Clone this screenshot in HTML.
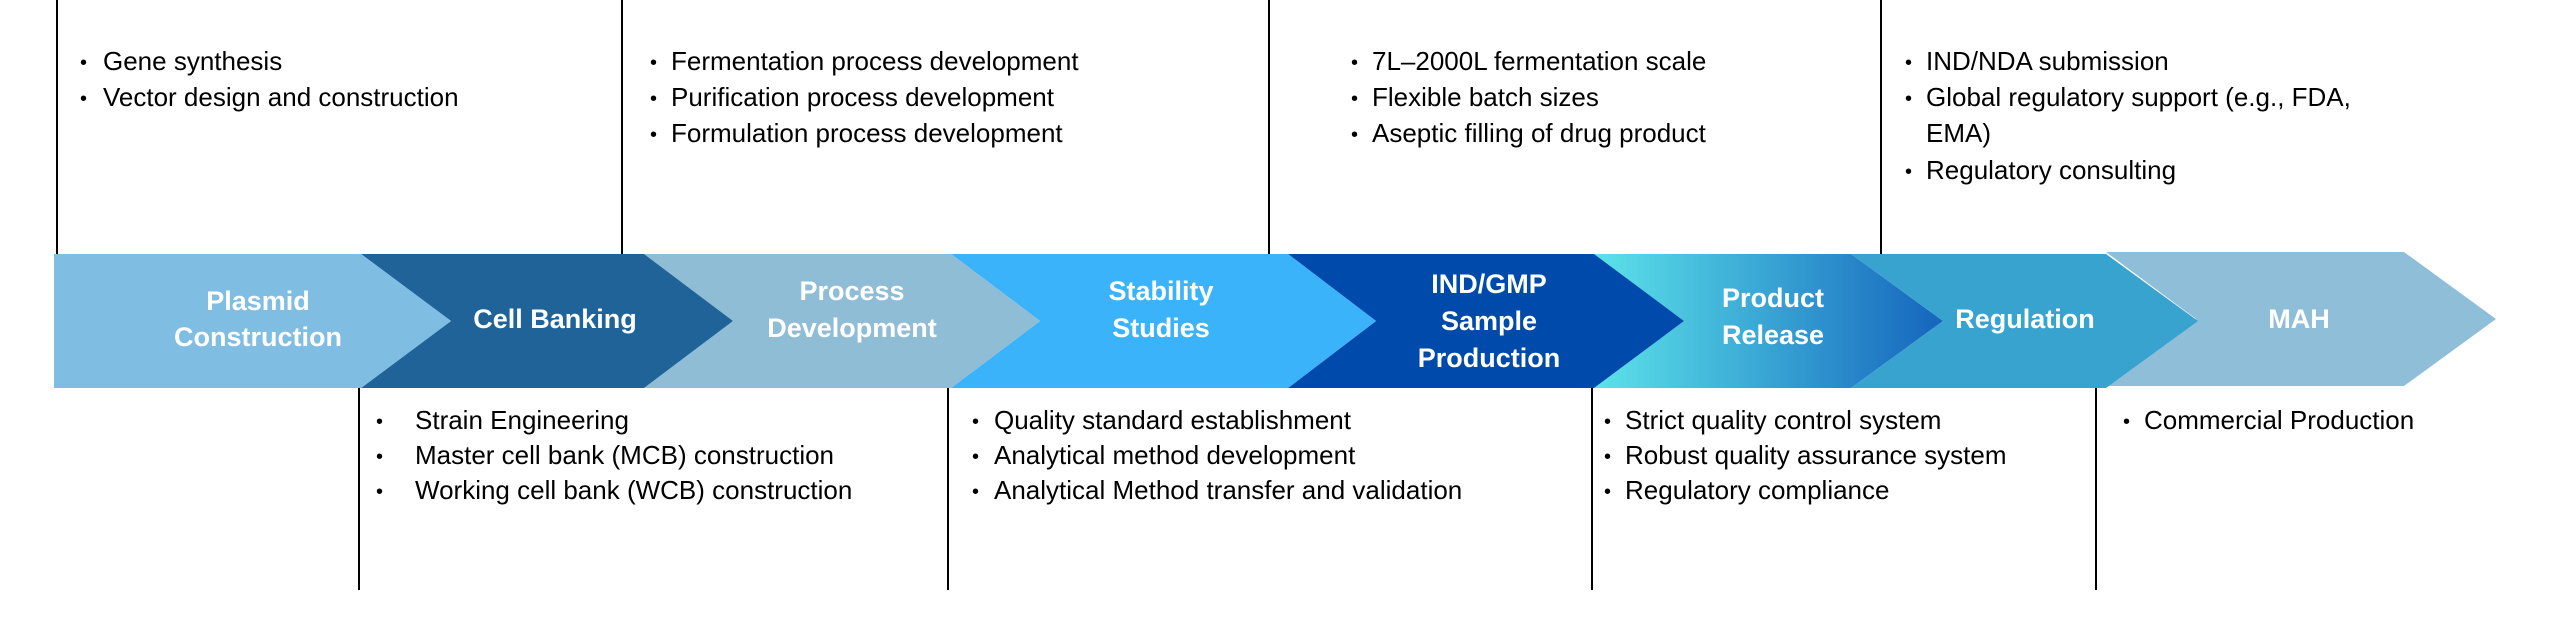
<!DOCTYPE html>
<html><head><meta charset="utf-8"><style>
html,body{margin:0;padding:0;background:#fff;}
svg{display:block;}
.t{font-family:"Liberation Sans",Arial,sans-serif;font-size:26px;fill:#000;}
.b{font-family:"Liberation Sans",Arial,sans-serif;font-size:20px;fill:#000;}
.l{font-family:"Liberation Sans",Arial,sans-serif;font-size:27px;font-weight:bold;fill:#fff;text-anchor:middle;}
</style></head><body>
<svg width="2560" height="640" viewBox="0 0 2560 640" xmlns="http://www.w3.org/2000/svg">
<defs>
<linearGradient id="g1" x1="0" x2="1" y1="0" y2="0">
<stop offset="0" stop-color="#5ce3ea"/><stop offset="1" stop-color="#1565bd"/>
</linearGradient>
</defs>
<g stroke="#000" stroke-width="2">
<line x1="57" y1="0" x2="57" y2="254"/>
<line x1="622" y1="0" x2="622" y2="254"/>
<line x1="1269" y1="0" x2="1269" y2="254"/>
<line x1="1881" y1="0" x2="1881" y2="254"/>
<line x1="359" y1="388" x2="359" y2="590"/>
<line x1="948" y1="388" x2="948" y2="590"/>
<line x1="1592" y1="388" x2="1592" y2="590"/>
<line x1="2096" y1="388" x2="2096" y2="590"/>
</g>
<polygon points="2106,252 2404,252 2496,319 2404,386 2106,386 2196,319" fill="#8fbfd8"/>
<polygon points="1851,254 2106,254 2198,321 2106,388 1851,388 1943,321" fill="#39a3cf"/>
<polygon points="1594,254 1851,254 1943,321 1851,388 1594,388 1684,321" fill="url(#g1)"/>
<polygon points="1288,254 1594,254 1684,321 1594,388 1288,388 1376,321" fill="#004aab"/>
<polygon points="951,254 1288,254 1376,321 1288,388 951,388 1040,321" fill="#3bb3fb"/>
<polygon points="644,254 951,254 1040,321 951,388 644,388 733,321" fill="#8fbdd6"/>
<polygon points="361,254 644,254 733,321 644,388 361,388 451,321" fill="#1f6399"/>
<polygon points="54,254 361,254 451,321 361,388 54,388" fill="#7fbde3"/>
<text class="l" x="258" y="310">Plasmid</text><text class="l" x="258" y="346">Construction</text>
<text class="l" x="555" y="328">Cell Banking</text>
<text class="l" x="852" y="300">Process</text><text class="l" x="852" y="337">Development</text>
<text class="l" x="1161" y="300">Stability</text><text class="l" x="1161" y="337">Studies</text>
<text class="l" x="1489" y="293">IND/GMP</text><text class="l" x="1489" y="330">Sample</text><text class="l" x="1489" y="367">Production</text>
<text class="l" x="1773" y="307">Product</text><text class="l" x="1773" y="344">Release</text>
<text class="l" x="2025" y="328">Regulation</text>
<text class="l" x="2299" y="328">MAH</text>
<g class="b">
<text x="80" y="69">•</text><text x="80" y="105">•</text>
<text x="650" y="69">•</text><text x="650" y="105">•</text><text x="650" y="141">•</text>
<text x="1351" y="69">•</text><text x="1351" y="105">•</text><text x="1351" y="141">•</text>
<text x="1905" y="69">•</text><text x="1905" y="105">•</text><text x="1905" y="178">•</text>
<text x="376" y="428">•</text><text x="376" y="463">•</text><text x="376" y="498">•</text>
<text x="972" y="428">•</text><text x="972" y="463">•</text><text x="972" y="498">•</text>
<text x="1604" y="428">•</text><text x="1604" y="463">•</text><text x="1604" y="498">•</text>
<text x="2123" y="428">•</text>
</g>
<g class="t">
<text x="103" y="70">Gene synthesis</text>
<text x="103" y="106">Vector design and construction</text>
<text x="671" y="70">Fermentation process development</text>
<text x="671" y="106">Purification process development</text>
<text x="671" y="142">Formulation process development</text>
<text x="1372" y="70">7L–2000L fermentation scale</text>
<text x="1372" y="106">Flexible batch sizes</text>
<text x="1372" y="142">Aseptic filling of drug product</text>
<text x="1926" y="70">IND/NDA submission</text>
<text x="1926" y="106">Global regulatory support (e.g., FDA,</text>
<text x="1926" y="142">EMA)</text>
<text x="1926" y="179">Regulatory consulting</text>
<text x="415" y="429">Strain Engineering</text>
<text x="415" y="464">Master cell bank (MCB) construction</text>
<text x="415" y="499">Working cell bank (WCB) construction</text>
<text x="994" y="429">Quality standard establishment</text>
<text x="994" y="464">Analytical method development</text>
<text x="994" y="499">Analytical Method transfer and validation</text>
<text x="1625" y="429">Strict quality control system</text>
<text x="1625" y="464">Robust quality assurance system</text>
<text x="1625" y="499">Regulatory compliance</text>
<text x="2144" y="429">Commercial Production</text>
</g>
</svg>
</body></html>
